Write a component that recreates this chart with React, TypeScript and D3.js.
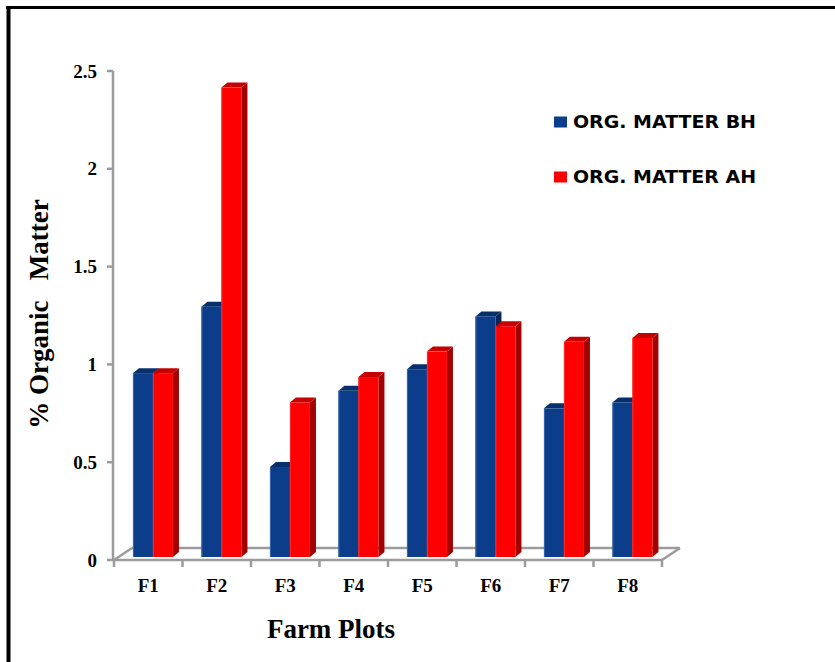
import React from "react";
import * as d3 from "d3";

// Organic matter (%) per farm plot, before (BH) and after (AH) harvest
const plots = ["F1", "F2", "F3", "F4", "F5", "F6", "F7", "F8"];
const seriesNames = ["ORG. MATTER BH", "ORG. MATTER AH"];
const matterBH = [0.94, 1.28, 0.46, 0.85, 0.96, 1.23, 0.76, 0.79];
const matterAH = [0.94, 2.4, 0.79, 0.92, 1.05, 1.18, 1.1, 1.12];
const yTicks = [0, 0.5, 1, 1.5, 2, 2.5];

const W = 835;
const H = 662;

// oblique depth of the floor and of each bar
const FLOOR_DX = 18;
const FLOOR_DY = -12;
const BAR_DX = 6;
const BAR_DY = -5;

const palette = [
  { front: "#0B3D8A", top: "#062F6B", side: "#052656", edge: "#3A68AE" },
  { front: "#FF0000", top: "#C40000", side: "#A30000", edge: "#FF2A2A" },
];

export default function App() {
  const x = d3.scaleBand<string>().domain(plots).range([114, 662]).paddingInner(0).paddingOuter(0);
  const y = d3.scaleLinear().domain([0, 2.5]).range([560, 71]);
  const inner = d3.scaleBand<string>().domain(seriesNames).range([0, 40]);
  const values = [matterBH, matterAH];

  const x0 = x.range()[0];
  const x1 = x.range()[1];
  const base = y(0);
  const barBase = base - 3;
  const axisColor = "#9B9B9B";

  const bars: React.ReactNode[] = [];
  plots.forEach((p, i) => {
    const groupLeft = (x(p) as number) + x.bandwidth() / 2 + 4.7 - 20;
    seriesNames.forEach((s, si) => {
      const v = values[si][i];
      const bx = groupLeft + (inner(s) as number);
      const bw = inner.bandwidth();
      const top = barBase - (base - y(v));
      const c = palette[si];
      bars.push(
        <g key={`${p}-${s}`}>
          <path
            d={`M${bx + bw},${top} L${bx + bw + BAR_DX},${top + BAR_DY} L${bx + bw + BAR_DX},${barBase + BAR_DY} L${bx + bw},${barBase} Z`}
            fill={c.side}
          />
          <path
            d={`M${bx},${top} L${bx + BAR_DX},${top + BAR_DY} L${bx + bw + BAR_DX},${top + BAR_DY} L${bx + bw},${top} Z`}
            fill={c.top}
          />
          <rect x={bx} y={top} width={bw} height={barBase - top} fill={c.front} />
          <line x1={bx + 0.5} x2={bx + 0.5} y1={top} y2={barBase} stroke={c.edge} strokeWidth={1} />
        </g>
      );
    });
  });

  return (
    <svg
      width={W}
      height={H}
      viewBox={`0 0 ${W} ${H}`}
      style={{ position: "absolute", left: 0, top: 0, background: "#fff" }}
    >
      {/* frame */}
      <line x1={6} x2={W} y1={7.5} y2={7.5} stroke="#000" strokeWidth={3} />
      <line x1={8.5} x2={8.5} y1={6} y2={H} stroke="#000" strokeWidth={4} />

      {/* floor */}
      <g stroke={axisColor} strokeWidth={2.5} fill="none">
        <line x1={x0 + FLOOR_DX} x2={x1 + FLOOR_DX} y1={base + FLOOR_DY} y2={base + FLOOR_DY} />
        <line x1={x0} x2={x0 + FLOOR_DX} y1={base} y2={base + FLOOR_DY} />
        <line x1={x1} x2={x1 + FLOOR_DX} y1={base} y2={base + FLOOR_DY} />
      </g>

      {bars}

      {/* value axis */}
      <g stroke={axisColor} strokeWidth={2.5}>
        <line x1={113} x2={113} y1={y(2.5)} y2={base} />
        {yTicks.map((t) => (
          <line key={t} x1={107} x2={113} y1={y(t)} y2={y(t)} />
        ))}
        <line x1={x0 - 1} x2={x1} y1={base} y2={base} />
        {d3.range(plots.length + 1).map((i) => {
          const tx = x0 + i * x.step();
          return <line key={i} x1={tx} x2={tx} y1={base} y2={base + 7} />;
        })}
      </g>
      <g fontFamily="'Liberation Serif', 'Times New Roman', serif" fontWeight="bold" fontSize={19} fill="#000">
        {yTicks.map((t) => (
          <text key={t} x={97} y={y(t)} dy="0.35em" textAnchor="end">
            {d3.format("")(t)}
          </text>
        ))}
        {plots.map((p) => (
          <text key={p} x={(x(p) as number) + x.bandwidth() / 2} y={592} textAnchor="middle">
            {p}
          </text>
        ))}
      </g>

      {/* axis titles */}
      <text
        x={331}
        y={638}
        textAnchor="middle"
        fontFamily="'Liberation Serif', 'Times New Roman', serif"
        fontWeight="bold"
        fontSize={27}
      >
        Farm Plots
      </text>
      <text
        transform="translate(48,314) rotate(-90)"
        textAnchor="middle"
        fontFamily="'Liberation Serif', 'Times New Roman', serif"
        fontWeight="bold"
        fontSize={27}
        style={{ whiteSpace: "pre" }}
      >
        {"% Organic   Matter"}
      </text>

      {/* legend */}
      {seriesNames.map((s, i) => (
        <g key={s} transform={`translate(554,${116 + i * 55})`}>
          <rect x={0} y={0.5} width={13} height={11} fill={palette[i].front} />
          <text
            x={19}
            y={11.5}
            fontFamily="'DejaVu Sans', sans-serif"
            fontWeight="bold"
            fontSize={17.5}
            textLength={183}
            lengthAdjust="spacingAndGlyphs"
          >
            {s}
          </text>
        </g>
      ))}
    </svg>
  );
}
